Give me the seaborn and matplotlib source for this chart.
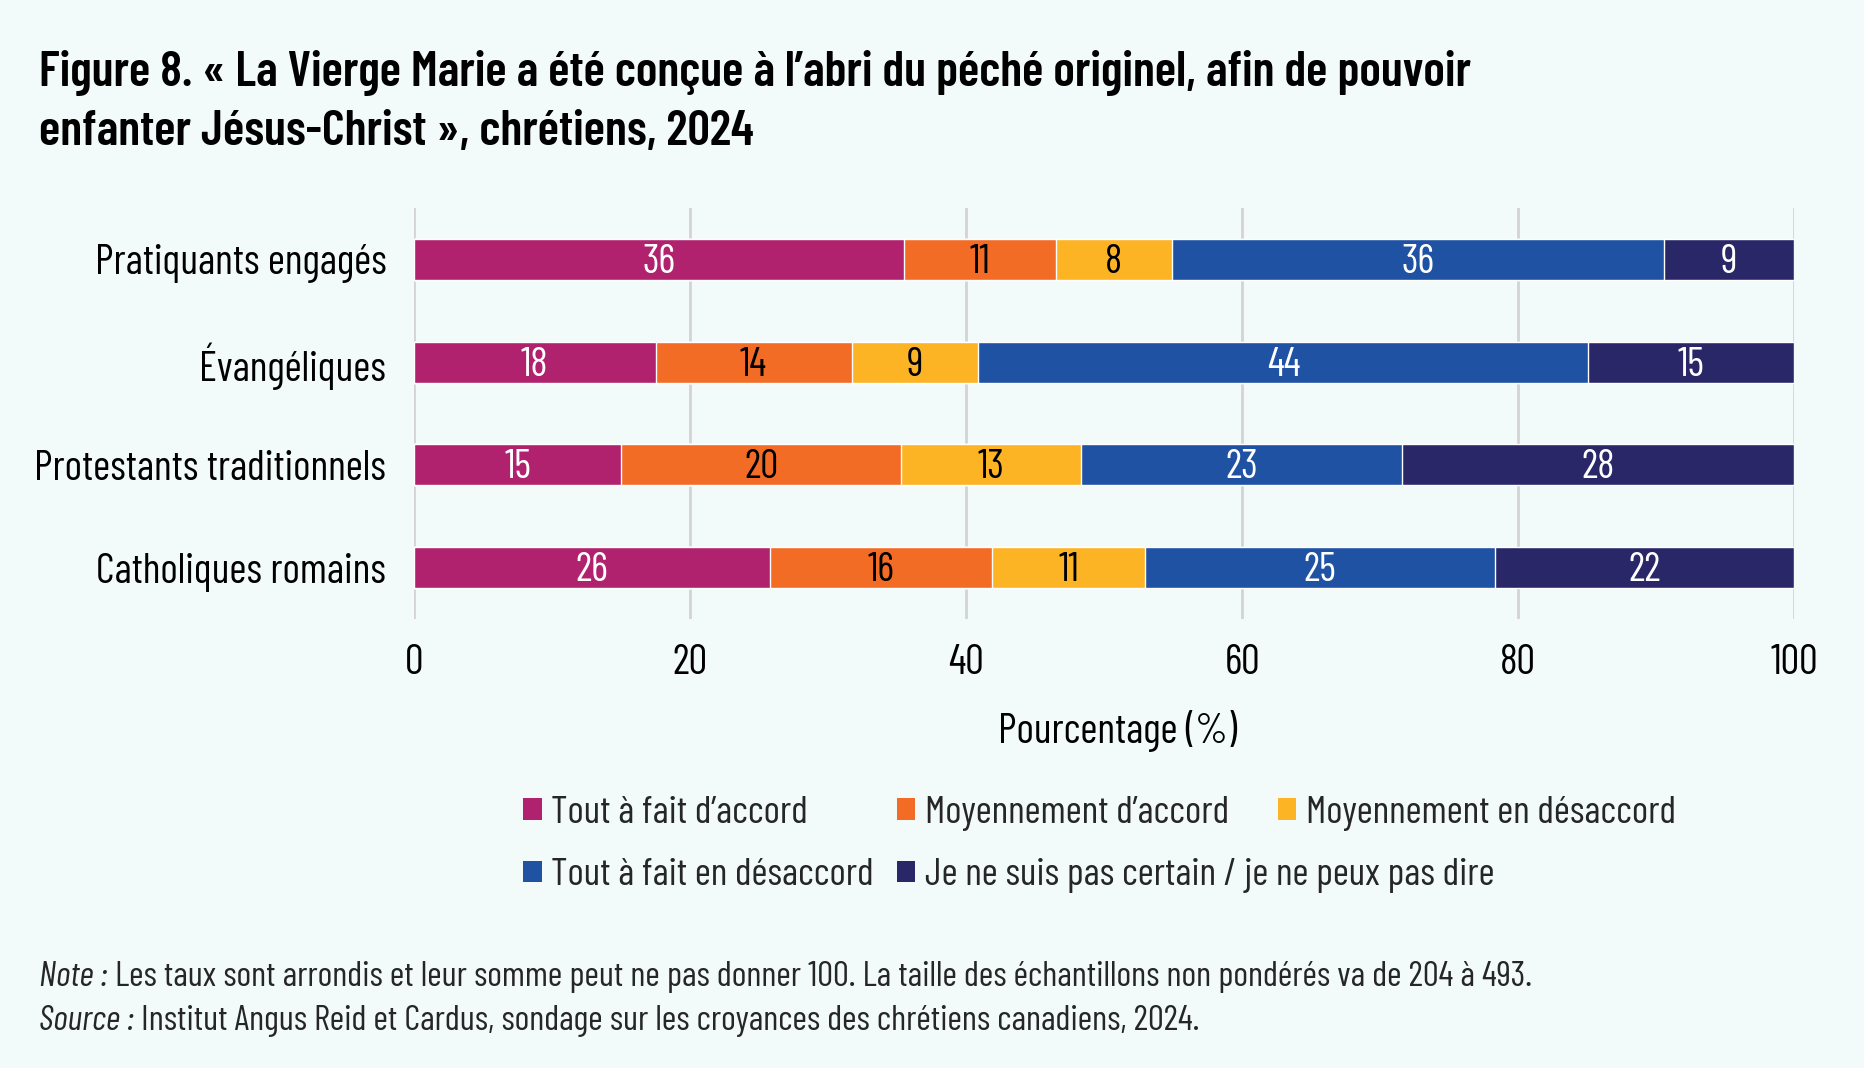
import matplotlib
matplotlib.use("Agg")
import matplotlib.pyplot as plt
from matplotlib.patches import Patch
import numpy as np
import pandas as pd
import seaborn as sns

# data
groups = ["Pratiquants engagés", "Évangéliques", "Protestants traditionnels", "Catholiques romains"]
answers = ["Tout à fait d’accord", "Moyennement d’accord", "Moyennement en désaccord",
           "Tout à fait en désaccord", "Je ne suis pas certain / je ne peux pas dire"]
tout_accord = [35.5, 17.5, 15.0, 25.8]
moy_accord = [11.0, 14.2, 20.3, 16.1]
moy_desaccord = [8.4, 9.2, 13.0, 11.1]
tout_desaccord = [35.7, 44.2, 23.3, 25.3]
pas_certain = [9.4, 14.9, 28.4, 21.7]
shown_labels = [[36, 18, 15, 26], [11, 14, 20, 16], [8, 9, 13, 11], [36, 44, 23, 25], [9, 15, 28, 22]]

colors = ["#B0226E", "#F26C26", "#FDB424", "#1F52A3", "#2A2768"]
text_colors = ["white", "black", "black", "white", "white"]
bg = "#F2FBFA"

sns.set_style("white")
plt.rcParams["font.family"] = ["Barlow Condensed", "DejaVu Sans"]

series = [tout_accord, moy_accord, moy_desaccord, tout_desaccord, pas_certain]
vals = np.array(series)
cum = np.cumsum(vals, axis=0)

fig = plt.figure(figsize=(18.65, 10.68), dpi=100, facecolor=bg)
ax = fig.add_axes([0.222, 0.4204, 0.740, 0.3848])
ax.set_facecolor(bg)

# stacked bars: draw cumulative totals from the longest to the shortest
for i in range(len(series) - 1, -1, -1):
    df = pd.DataFrame({"grp": groups, "val": cum[i]})
    sns.barplot(data=df, x="val", y="grp", orient="h", color=colors[i],
                width=0.4, saturation=1, ax=ax, zorder=3)

for i in range(len(series)):
    for j in range(len(groups)):
        x = cum[i][j] - vals[i][j] / 2
        ax.text(x, j + 0.03, str(shown_labels[i][j]), ha="center", va="center",
                color=text_colors[i], fontsize=29, zorder=5)

ax.set_xlim(0, 100)
ax.set_ylim(3.5, -0.5)
ax.set_xticks([0, 20, 40, 60, 80, 100])
ax.grid(axis="x", color="#D3D3D3", linewidth=2, zorder=0)
ax.grid(axis="y", visible=False)
sns.despine(ax=ax, left=True, bottom=True)
ax.tick_params(axis="both", length=0, labelsize=30, labelcolor="black")
ax.tick_params(axis="y", pad=20)
ax.tick_params(axis="x", pad=18)
ax.set_ylabel("")
ax.set_xlabel("Pourcentage (%)", fontsize=30, labelpad=19.5, color="black")
ax.xaxis.label.set_x(0.51)

# legend laid out row by row like the original
leg_pos = [(0.2806, 0.2385), (0.4810, 0.2385), (0.6850, 0.2385), (0.2806, 0.1800), (0.4810, 0.1800)]
for k in range(len(answers)):
    fig.legend([Patch(facecolor=colors[k], edgecolor="none")], [answers[k]],
               loc="center left", bbox_to_anchor=leg_pos[k], frameon=False,
               fontsize=28, handlelength=0.47, handleheight=0.47, handletextpad=0.25,
               borderpad=0, borderaxespad=0)

fig.text(0.021, 0.9198, "Figure 8. « La Vierge Marie a été conçue à l’abri du péché originel, afin de pouvoir",
         fontsize=35.8, fontweight="semibold", va="baseline", ha="left", color="black")
fig.text(0.021, 0.8641, "enfanter Jésus-Christ », chrétiens, 2024",
         fontsize=35.8, fontweight="semibold", va="baseline", ha="left", color="black")

note = fig.text(0.021, 0.085, "Note :", fontsize=25.5, style="italic", va="center")
ax.annotate(" Les taux sont arrondis et leur somme peut ne pas donner 100. La taille des échantillons non pondérés va de 204 à 493.",
            xy=(1, 0.5), xycoords=note, fontsize=25.5, va="center", ha="left", annotation_clip=False)
src = fig.text(0.021, 0.044, "Source :", fontsize=25.5, style="italic", va="center")
ax.annotate(" Institut Angus Reid et Cardus, sondage sur les croyances des chrétiens canadiens, 2024.",
            xy=(1, 0.5), xycoords=src, fontsize=25.5, va="center", ha="left", annotation_clip=False)

fig.savefig("out.png", dpi=100, facecolor=bg)
